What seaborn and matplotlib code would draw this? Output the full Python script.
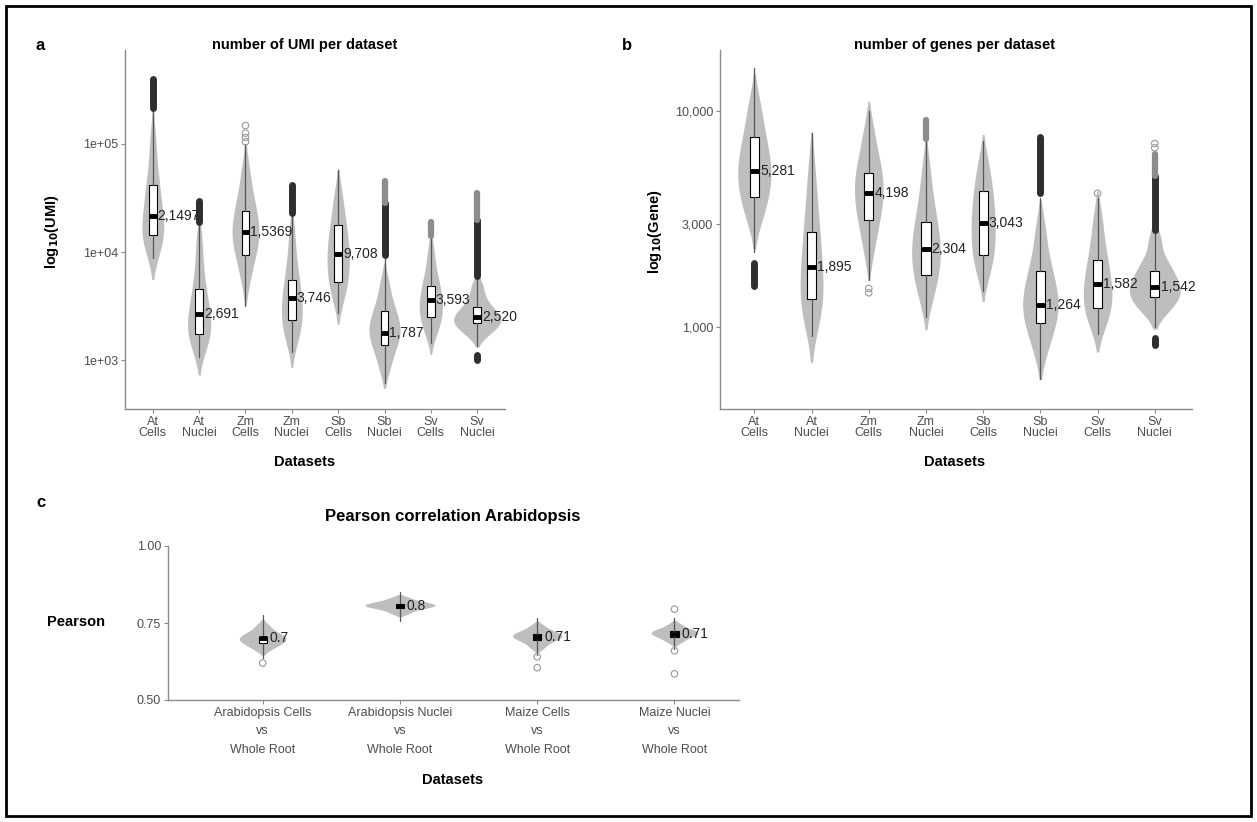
import numpy as np
import pandas as pd
import matplotlib.pyplot as plt
from matplotlib.patches import Rectangle
import seaborn as sns

# ---- data ----
# panels a/b: log10 values; each row = p5, p15, ..., p95 of one dataset
datasets = ['At\nCells', 'At\nNuclei', 'Zm\nCells', 'Zm\nNuclei',
            'Sb\nCells', 'Sb\nNuclei', 'Sv\nCells', 'Sv\nNuclei']

umi_q = [
    [4.013, 4.091, 4.157, 4.224, 4.309, 4.395, 4.505, 4.624, 4.784, 5.051],
    [3.115, 3.200, 3.255, 3.320, 3.390, 3.470, 3.560, 3.680, 3.850, 4.100],
    [3.753, 3.936, 4.031, 4.106, 4.180, 4.252, 4.331, 4.426, 4.547, 4.757],
    [3.182, 3.277, 3.360, 3.432, 3.503, 3.586, 3.676, 3.787, 3.930, 4.169],
    [3.576, 3.686, 3.781, 3.871, 3.948, 4.030, 4.122, 4.219, 4.349, 4.528],
    [2.928, 3.063, 3.156, 3.211, 3.266, 3.319, 3.379, 3.449, 3.543, 3.712],
    [3.242, 3.340, 3.402, 3.461, 3.516, 3.576, 3.646, 3.721, 3.821, 4.003],
    [3.232, 3.292, 3.326, 3.356, 3.384, 3.412, 3.450, 3.494, 3.571, 3.688],
]
umi_whis = [(3.95, 5.30), (3.03, 4.27), (3.50, 5.00), (3.08, 4.35),
            (3.44, 4.76), (2.79, 3.97), (3.16, 4.15), (3.13, 3.78)]
umi_median = [21497, 2691, 15369, 3746, 9708, 1787, 3593, 2520]
umi_q1 = [14500, 1740, 9500, 2340, 5250, 1380, 2500, 2200]
umi_q3 = [41700, 4570, 24000, 5500, 18000, 2880, 4900, 3100]
umi_labels = ['2,1497', '2,691', '1,5369', '3,746', '9,708', '1,787', '3,593', '2,520']
# outliers (log10): dense runs, fainter runs, single points
umi_dense = [[(5.33, 5.60)], [(4.28, 4.47)], [], [(4.36, 4.62)], [],
             [(3.97, 4.45)], [], [(3.78, 4.30), (3.00, 3.05)]]
umi_faint = [[], [], [], [], [], [(4.45, 4.66)], [(4.15, 4.28)], [(4.30, 4.55)]]
umi_pts = [[], [], [5.02, 5.06, 5.10, 5.17], [], [], [], [], []]

gene_q = [
    [3.497, 3.572, 3.628, 3.671, 3.713, 3.756, 3.807, 3.861, 3.932, 4.037],
    [3.019, 3.081, 3.133, 3.190, 3.251, 3.314, 3.390, 3.472, 3.569, 3.722],
    [3.353, 3.455, 3.519, 3.565, 3.611, 3.657, 3.701, 3.745, 3.807, 3.910],
    [3.136, 3.207, 3.267, 3.311, 3.356, 3.403, 3.449, 3.520, 3.590, 3.728],
    [3.251, 3.313, 3.363, 3.412, 3.461, 3.509, 3.559, 3.614, 3.676, 3.760],
    [2.894, 2.981, 3.030, 3.071, 3.110, 3.150, 3.194, 3.255, 3.323, 3.453],
    [3.012, 3.060, 3.102, 3.140, 3.179, 3.221, 3.269, 3.322, 3.399, 3.506],
    [3.073, 3.110, 3.136, 3.159, 3.182, 3.205, 3.234, 3.272, 3.310, 3.408],
]
gene_whis = [(3.35, 4.20), (2.96, 3.90), (3.22, 4.00), (3.05, 3.87),
             (3.17, 3.86), (2.76, 3.60), (2.97, 3.60), (3.00, 3.45)]
gene_median = [5281, 1895, 4198, 2304, 3043, 1264, 1582, 1542]
gene_q1 = [4000, 1350, 3150, 1750, 2150, 1050, 1230, 1380]
gene_q3 = [7600, 2750, 5150, 3070, 4250, 1820, 2050, 1820]
gene_labels = ['5,281', '1,895', '4,198', '2,304', '3,043', '1,264', '1,582', '1,542']
gene_dense = [[(3.19, 3.30)], [], [], [], [],
              [(3.62, 3.88)], [], [(3.45, 3.70), (2.92, 2.95)]]
gene_faint = [[], [], [], [(3.87, 3.96)], [], [], [], [(3.70, 3.80)]]
gene_pts = [[], [], [3.16, 3.18], [], [], [], [3.62], [3.83, 3.85]]

# panel c: Pearson correlation
comparisons = ['Arabidopsis Cells\nvs\nWhole Root', 'Arabidopsis Nuclei\nvs\nWhole Root',
               'Maize Cells\nvs\nWhole Root', 'Maize Nuclei\nvs\nWhole Root']
pear_q = [
    [0.664, 0.677, 0.685, 0.691, 0.697, 0.702, 0.708, 0.715, 0.724, 0.742],
    [0.782, 0.793, 0.799, 0.803, 0.806, 0.809, 0.812, 0.816, 0.821, 0.831],
    [0.670, 0.685, 0.694, 0.700, 0.705, 0.709, 0.714, 0.719, 0.726, 0.740],
    [0.688, 0.699, 0.706, 0.711, 0.715, 0.719, 0.723, 0.727, 0.733, 0.745],
]
pear_whis = [(0.636, 0.775), (0.755, 0.850), (0.645, 0.766), (0.665, 0.766)]
pear_median = [0.700, 0.805, 0.705, 0.715]
pear_q1 = [0.685, 0.800, 0.695, 0.705]
pear_q3 = [0.705, 0.812, 0.715, 0.725]
pear_labels = ['0.7', '0.8', '0.71', '0.71']
pear_dense = [[], [], [], []]
pear_faint = [[], [], [], []]
pear_pts = [[0.62], [], [0.64, 0.605], [0.795, 0.66, 0.585]]

# ---- style ----
sns.set_style('white')
plt.rcParams['font.family'] = ['Liberation Sans', 'DejaVu Sans']
W, H = 1257, 822
VIOLIN = '#bebebe'
GREY = '#8a8a8a'
TXT = '#4d4d4d'

# widest point of each violin, as a share of the category spacing
umi_vw = [0.47, 0.50, 0.58, 0.45, 0.48, 0.67, 0.50, 1.02]
gene_vw = [0.58, 0.40, 0.50, 0.50, 0.42, 0.62, 0.50, 0.89]
pear_vw = [0.34, 0.51, 0.36, 0.34]

fig = plt.figure(figsize=(W / 100, H / 100), dpi=100)


def rect(x0, y0, x1, y1):
    return [x0 / W, 1 - y1 / H, (x1 - x0) / W, (y1 - y0) / H]


def panel(ax, cats, quant, whis, med, q1, q3, labels, dense, faint, pts, log, vw, boxw):
    for i, (c, q) in enumerate(zip(cats, quant)):
        one = pd.DataFrame({'dataset': [c] * len(q), 'value': q})
        sns.violinplot(data=one, x='dataset', y='value', order=cats, color=VIOLIN,
                       linewidth=0, inner=None, cut=1.6, bw_adjust=0.8,
                       density_norm='width', width=vw[i], saturation=1, ax=ax)
    for c in ax.collections:
        c.set_edgecolor(VIOLIN)
    f = np.log10 if log else (lambda v: v)
    stats = [dict(med=f(m), q1=f(a), q3=f(b), whislo=w[0], whishi=w[1], fliers=[])
             for m, a, b, w in zip(med, q1, q3, whis)]
    ax.bxp(stats, positions=range(len(cats)), widths=boxw, showfliers=False,
           showcaps=False, patch_artist=True, manage_ticks=False,
           boxprops=dict(facecolor='white', edgecolor='black', linewidth=0.8),
           medianprops=dict(color='black', linewidth=3.5, solid_capstyle='butt'),
           whiskerprops=dict(color='#555555', linewidth=0.9), zorder=3)
    for i, rr in enumerate(dense):
        for lo, hi in rr:
            ax.vlines(i, lo, hi, color='#2e2e2e', linewidth=5, capstyle='round', zorder=4)
    for i, rr in enumerate(faint):
        for lo, hi in rr:
            ax.vlines(i, lo, hi, color='#8c8c8c', linewidth=4.5, capstyle='round', zorder=4)
    for i, pp in enumerate(pts):
        ax.scatter([i] * len(pp), pp, s=22, facecolor='none', edgecolor='#999999',
                   linewidth=0.8, zorder=4)
    for i, (m, t) in enumerate(zip(med, labels)):
        ax.text(i + boxw / 2 + 0.02, f(m), t, fontsize=10, color='#222222',
                va='center', ha='left', zorder=5)
    ax.set_xlabel('')
    ax.set_ylabel('')
    sns.despine(ax=ax)
    for s in ['left', 'bottom']:
        ax.spines[s].set_color(GREY)
        ax.spines[s].set_linewidth(1.0)
    ax.tick_params(axis='both', length=3, color=GREY, labelcolor=TXT, labelsize=9,
                   left=True, bottom=True, pad=2)


# panel a
ax_a = fig.add_axes(rect(125, 50, 505, 409))
panel(ax_a, datasets, umi_q, umi_whis, umi_median, umi_q1, umi_q3, umi_labels,
      umi_dense, umi_faint, umi_pts, True, umi_vw, 0.17)
ax_a.set_ylim(2.551, 5.868)
ax_a.set_xlim(-0.6, 7.6)
ax_a.set_yticks([3, 4, 5], ['1e+03', '1e+04', '1e+05'])
ax_a.set_xticks(range(8), datasets, linespacing=0.95)

# panel b
ax_b = fig.add_axes(rect(720, 50, 1192, 409))
panel(ax_b, datasets, gene_q, gene_whis, gene_median, gene_q1, gene_q3, gene_labels,
      gene_dense, gene_faint, gene_pts, True, gene_vw, 0.16)
ax_b.set_ylim(2.623, 4.282)
ax_b.set_xlim(-0.6, 7.65)
ax_b.set_yticks(np.log10([1000, 3000, 10000]), ['1,000', '3,000', '10,000'])
ax_b.set_xticks(range(8), datasets, linespacing=0.95)

# panel c
ax_c = fig.add_axes(rect(168, 546, 739, 700))
panel(ax_c, comparisons, pear_q, pear_whis, pear_median, pear_q1, pear_q3, pear_labels,
      pear_dense, pear_faint, pear_pts, False, pear_vw, 0.06)
ax_c.set_ylim(0.5, 1.0)
ax_c.set_xlim(-0.69, 3.47)
ax_c.set_yticks([0.5, 0.75, 1.0], ['0.50', '0.75', '1.00'])
ax_c.set_xticks(range(4), comparisons, linespacing=1.7)


# titles and labels
def ftext(x, y, s, **kw):
    fig.text(x / W, 1 - y / H, s, ha='center', va='center',
             fontweight='bold', color='black', **kw)


ftext(40, 45, 'a', fontsize=12)
ftext(627, 45, 'b', fontsize=12)
ftext(41, 502, 'c', fontsize=12)
ftext(305, 45, 'number of UMI per dataset', fontsize=10.5)
ftext(955, 45, 'number of genes per dataset', fontsize=10.5)
ftext(453, 516, 'Pearson correlation Arabidopsis', fontsize=12)
ftext(52, 232, r'log$_{\mathbf{10}}$(UMI)', fontsize=10.5, rotation=90)
ftext(655, 232, r'log$_{\mathbf{10}}$(Gene)', fontsize=10.5, rotation=90)
ftext(76, 622, 'Pearson', fontsize=10.5)
ftext(305, 462, 'Datasets', fontsize=10.5)
ftext(955, 462, 'Datasets', fontsize=10.5)
ftext(453, 780, 'Datasets', fontsize=10.5)

fig.add_artist(Rectangle((6 / W, 6 / H), (W - 12) / W, (H - 12) / H,
                         transform=fig.transFigure, fill=False, lw=2, ec='black'))

fig.savefig('out.png', dpi=100)
